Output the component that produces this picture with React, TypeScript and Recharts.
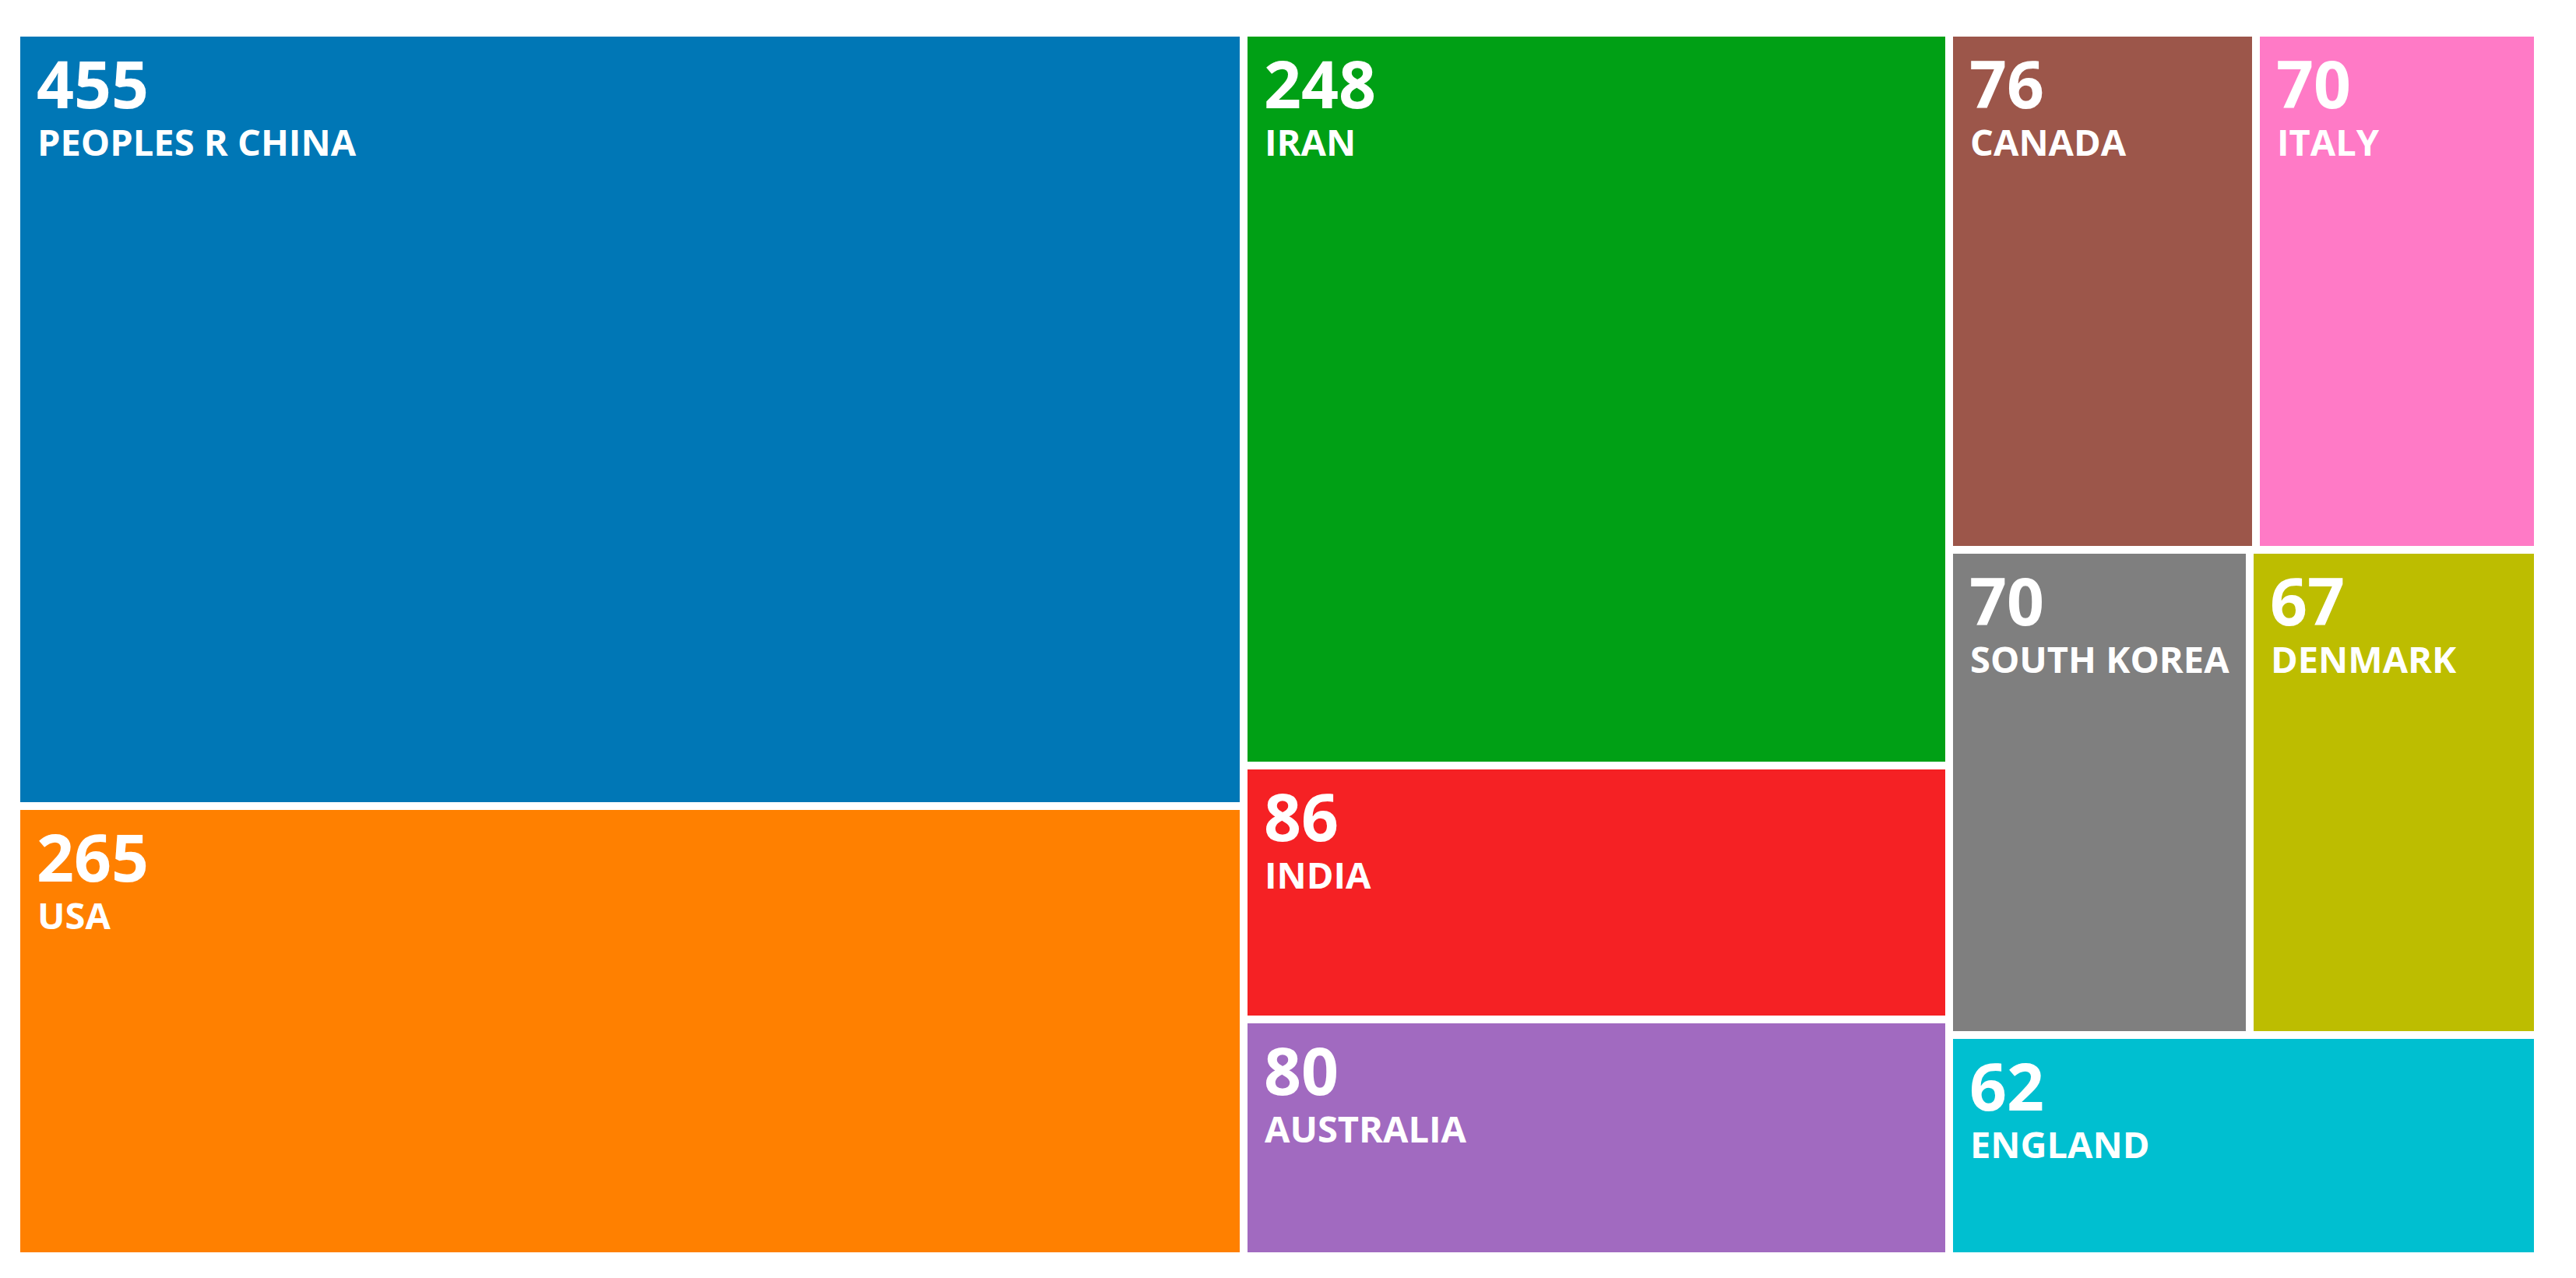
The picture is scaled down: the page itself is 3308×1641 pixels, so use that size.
import React from 'react';
import { Treemap } from 'recharts';

// countries and article counts
const countries = [
	'PEOPLES R CHINA',
	'USA',
	'IRAN',
	'INDIA',
	'AUSTRALIA',
	'CANADA',
	'ITALY',
	'SOUTH KOREA',
	'DENMARK',
	'ENGLAND',
];
const articles = [455, 265, 248, 86, 80, 76, 70, 70, 67, 62];

const colors = [
	'#0077b6',
	'#ff8000',
	'#00a015',
	'#f52124',
	'#a16ac0',
	'#9c564a',
	'#ff7ac6',
	'#7f7f7f',
	'#bdbd00',
	'#00bfd0',
];

const data = countries.map((name, i) => ({ name, size: articles[i] }));

const GAP = 5;

const Cell = (props: any) => {
	const { x, y, width, height, depth, index, name, value } = props;
	if (depth !== 1) return <g />;
	const cx = x + GAP;
	const cy = y + GAP;
	return (
		<g>
			<rect
				x={cx}
				y={cy}
				width={Math.max(0, width - GAP * 2)}
				height={Math.max(0, height - GAP * 2)}
				fill={colors[index % colors.length]}
			/>
			<text
				x={cx + 21}
				y={cy + 92}
				fill="#fff"
				fontSize={84}
				fontWeight={700}
				fontFamily="'Open Sans', sans-serif"
			>
				{value}
			</text>
			<text
				x={cx + 22}
				y={cy + 153}
				fill="#fff"
				fontSize={47}
				fontWeight={700}
				fontFamily="'Open Sans', sans-serif"
			>
				{name}
			</text>
		</g>
	);
};

const App: React.FC = () => {
	return (
		<div style={{ position: 'absolute', left: 21, top: 42 }}>
			<Treemap
				width={3238}
				height={1571}
				data={data}
				dataKey="size"
				nameKey="name"
				stroke="none"
				content={<Cell />}
				isAnimationActive={false}
			/>
		</div>
	);
};

export default App;
